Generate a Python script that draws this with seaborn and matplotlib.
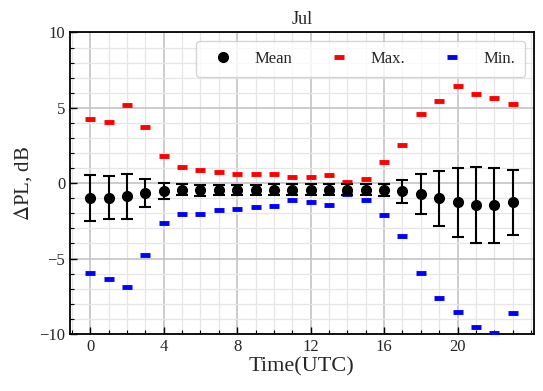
import numpy as np
import pandas as pd
import matplotlib.pyplot as plt
from matplotlib.ticker import MultipleLocator
from matplotlib.lines import Line2D
import seaborn as sns

# valeurs (Jul)
hours = list(range(24))
mean_pl = [-0.99, -0.95, -0.88, -0.64, -0.51, -0.44, -0.46, -0.46, -0.46, -0.44, -0.42, -0.42,
           -0.42, -0.42, -0.42, -0.42, -0.44, -0.55, -0.73, -1.01, -1.28, -1.46, -1.46, -1.28]
std_pl = [1.52, 1.44, 1.50, 0.94, 0.53, 0.37, 0.36, 0.35, 0.35, 0.35, 0.34, 0.34,
          0.34, 0.34, 0.34, 0.34, 0.40, 0.79, 1.33, 1.85, 2.28, 2.53, 2.49, 2.16]
max_pl = [4.23, 4.08, 5.20, 3.70, 1.79, 1.06, 0.86, 0.77, 0.64, 0.64, 0.64, 0.44,
          0.44, 0.53, 0.07, 0.31, 1.43, 2.56, 4.56, 5.45, 6.48, 5.93, 5.62, 5.27]
min_pl = [-5.95, -6.35, -6.88, -4.76, -2.65, -2.03, -2.07, -1.79, -1.68, -1.59, -1.54, -1.12,
          -1.28, -1.43, -0.75, -1.12, -2.12, -3.51, -5.95, -7.63, -8.53, -9.55, -9.92, -8.62]

df = pd.DataFrame({'hour': hours, 'mean': mean_pl, 'std': std_pl, 'max': max_pl, 'min': min_pl})

sns.set_style('whitegrid')
plt.rcParams['font.family'] = ['Liberation Serif', 'DejaVu Serif']
plt.rcParams['mathtext.fontset'] = 'stix'

fig, ax = plt.subplots(figsize=(5.43, 3.91), dpi=100)
fig.subplots_adjust(left=0.129, right=0.983, top=0.917, bottom=0.146)

ax.errorbar(df['hour'], df['mean'], yerr=df['std'], fmt='o', color='black', ms=7,
            elinewidth=1.5, capsize=4, capthick=1.5, zorder=4)
sns.lineplot(data=df, x='hour', y='max', ax=ax, marker='_', linestyle='', color='red',
             markersize=6.5, markeredgewidth=3.5, mec='red', zorder=3)
sns.lineplot(data=df, x='hour', y='min', ax=ax, marker='_', linestyle='', color='blue',
             markersize=6.5, markeredgewidth=3.5, mec='blue', zorder=3)

ax.set_ylim(-10, 10)
ax.set_xlim(-1.1, 24.15)
ax.xaxis.set_minor_locator(MultipleLocator(1))
ax.yaxis.set_major_locator(MultipleLocator(5))
ax.yaxis.set_minor_locator(MultipleLocator(1))
ax.set_xticks([0, 4, 8, 12, 16, 20])
ax.grid(which='major', color='#c4c4c4', linewidth=1.2)
ax.grid(which='minor', color='#e6e6e6', linewidth=0.9)
ax.tick_params(which='both', direction='in', left=True, bottom=True, labelsize=12, color='black')
ax.tick_params(which='major', length=5, width=1)
ax.tick_params(which='minor', length=3, width=0.8)
for s in ax.spines.values():
    s.set_color('black')
    s.set_linewidth(1.3)

ax.set_title('Jul', fontsize=13)
ax.set_xlabel('Time(UTC)', fontsize=16, labelpad=2)
ax.set_ylabel(r'$\Delta$PL, dB', fontsize=15)

handles = [
    Line2D([], [], marker='o', linestyle='', color='black', ms=7),
    Line2D([], [], marker='_', linestyle='', color='red', mec='red', ms=6.5, mew=3.5),
    Line2D([], [], marker='_', linestyle='', color='blue', mec='blue', ms=6.5, mew=3.5),
]
leg = ax.legend(handles, ['Mean', 'Max.', 'Min.'], loc='upper right', ncol=3, fontsize=12,
                handletextpad=0.9, columnspacing=1.8, borderpad=0.6, frameon=True,
                borderaxespad=0.5)
leg.get_frame().set_edgecolor('#cccccc')

plt.savefig('out.png')
